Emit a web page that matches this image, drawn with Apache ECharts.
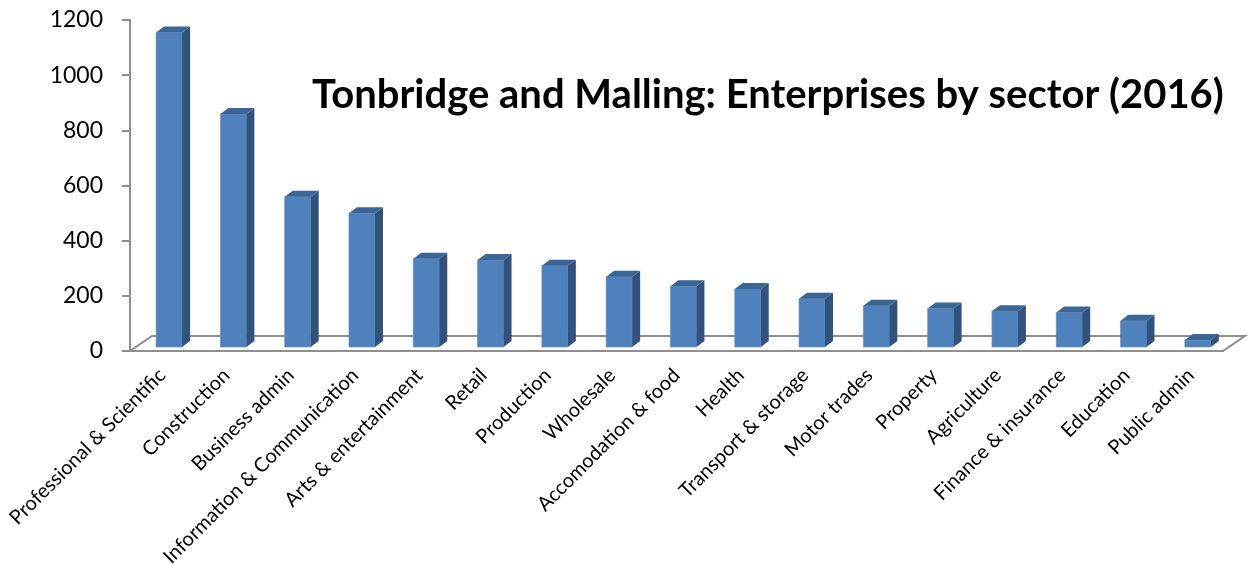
<!DOCTYPE html>
<html>
<head>
<meta charset="utf-8">
<script src="https://cdn.jsdelivr.net/npm/echarts@6/dist/echarts.min.js"></script>
<style>html,body{margin:0;padding:0;background:#fff}#c{width:1251px;height:564px}</style>
</head>
<body>
<div id="c"></div>
<script>
const categories = ["Professional & Scientific","Construction","Business admin","Information & Communication","Arts & entertainment","Retail","Production","Wholesale","Accomodation & food","Health","Transport & storage","Motor trades","Property","Agriculture","Finance & insurance","Education","Public admin"];
const values = [1140, 845, 545, 485, 320, 315, 295, 255, 220, 210, 175, 150, 140, 130, 125, 95, 25];
const yTicks = [0, 200, 400, 600, 800, 1000, 1200];
const titleText = "Tonbridge and Malling: Enterprises by sector (2016)";

const FRONT = '#4f81bd', SIDE = '#30527c', TOP = '#3b6595';
const GREY = '#8f8f8f';

function renderBar(params, api) {
  const idx = api.value(0), v = api.value(1);
  const band = api.size([1, 0])[0];
  const base = api.coord([idx, 0]);
  const top = api.coord([idx, v]);
  const cx = base[0];
  const lift = 4;
  const y0 = base[1] - lift, y1 = top[1] - lift;
  const xl = cx - band * 0.094, xr = cx + band * 0.31;
  const dx = 8, dy = 6;
  return {
    type: 'group',
    children: [
      {type: 'rect', shape: {x: xl, y: y1, width: xr - xl, height: y0 - y1}, style: {fill: FRONT, stroke: '#5b8cc6', lineWidth: 0.6}},
      {type: 'polygon', shape: {points: [[xr, y0], [xr + dx, y0 - dy], [xr + dx, y1 - dy], [xr, y1]]}, style: {fill: SIDE}},
      {type: 'polygon', shape: {points: [[xl, y1], [xl + dx, y1 - dy], [xr + dx, y1 - dy], [xr, y1]]}, style: {fill: TOP}}
    ]
  };
}

function renderFloor(params, api) {
  const cs = params.coordSys;
  const x0 = cs.x, x1 = cs.x + cs.width, yb = cs.y + cs.height;
  const dx = 22, dy = 15;
  return {
    type: 'polyline',
    shape: {points: [[x0, yb], [x0 + dx, yb - dy], [x1 + dx, yb - dy], [x1, yb]]},
    style: {stroke: GREY, lineWidth: 2, fill: null}
  };
}

const chart = echarts.init(document.getElementById('c'));
chart.setOption({
  animation: false,
  title: {
    text: titleText, left: 307, top: 70,
    textStyle: {fontFamily: 'Lato', fontWeight: 'bold', fontSize: 40, color: '#000'}
  },
  grid: {left: 130, right: 28, top: 20, bottom: 213, containLabel: false, outerBoundsMode: 'none'},
  xAxis: {
    type: 'category', data: categories,
    axisLine: {lineStyle: {color: GREY, width: 2}},
    axisTick: {length: 6, lineStyle: {color: GREY, width: 2}},
    axisLabel: {interval: 0, rotate: 45, margin: 21, fontFamily: 'Lato', fontSize: 20, color: '#000'}
  },
  yAxis: {
    type: 'value', min: yTicks[0], max: yTicks[yTicks.length - 1], interval: 200,
    splitLine: {show: false},
    axisLine: {show: true, lineStyle: {color: GREY, width: 2}},
    axisTick: {show: true, length: 8, lineStyle: {color: GREY, width: 2}},
    axisLabel: {margin: 27, fontFamily: 'Lato', fontSize: 23, color: '#000', formatter: v => String(v)}
  },
  series: [
    {type: 'custom', renderItem: renderFloor, data: [[0, 0]], clip: false, z: 1, silent: true},
    {type: 'custom', renderItem: renderBar, data: values.map((v, i) => [i, v]), clip: false, z: 2,
     encode: {x: 0, y: 1}}
  ]
});
</script>
</body>
</html>
